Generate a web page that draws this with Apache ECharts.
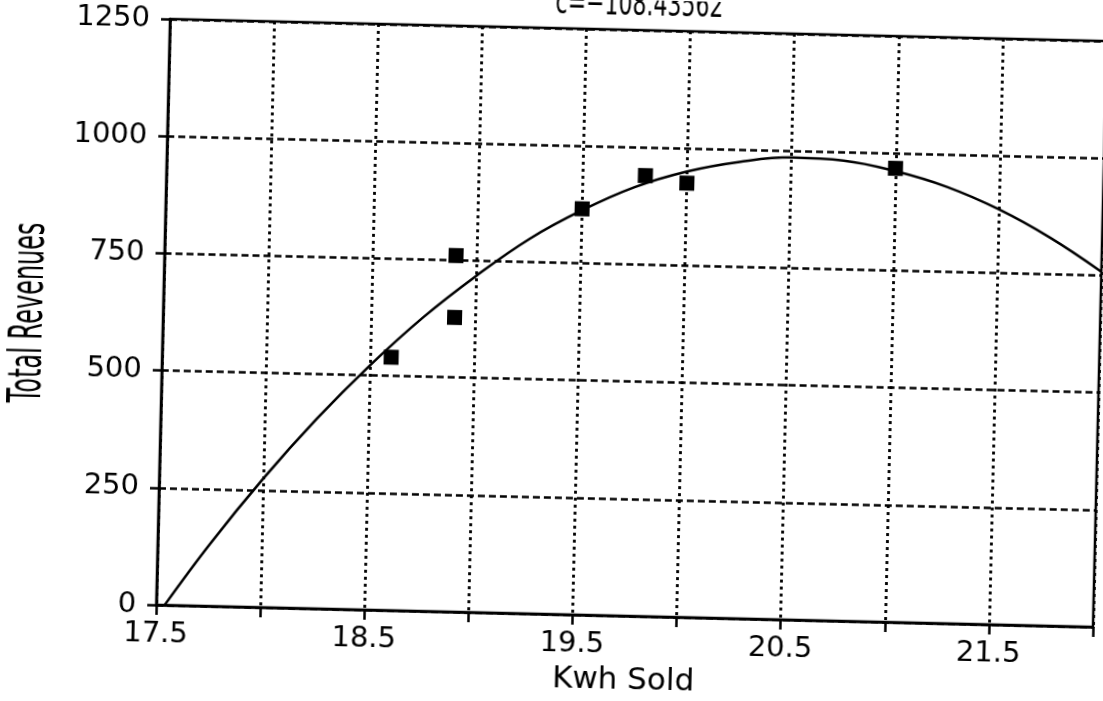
<!DOCTYPE html>
<html>
<head>
<meta charset="utf-8">
<script src="https://cdn.jsdelivr.net/npm/echarts@6/dist/echarts.min.js"></script>
<style>
  html, body { margin: 0; padding: 0; background: #fff; overflow: hidden; width: 1103px; height: 701px; }
  /* the plotted sheet sits slightly askew */
  #chart { position: absolute; left: 0; top: 0; width: 1160px; height: 701px;
           transform: rotate(1.35deg); transform-origin: 633px 323.5px; }
</style>
</head>
<body>
<div id="chart"></div>
<script>
// Observed sales: kWh sold vs. total revenues
const kwhSold       = [18.6, 18.9, 18.9, 19.5, 19.8, 20.0, 21.0];
const totalRevenues = [540, 760, 628, 866, 940, 926, 968];

// Fitted quadratic revenue curve, sampled along the axis
const fitKwh     = [17.54, 17.75, 18.0, 18.25, 18.5, 18.75, 19.0, 19.25, 19.5, 19.75,
                    20.0, 20.25, 20.5, 20.75, 21.0, 21.25, 21.5, 21.75, 22.0];
const fitRevenue = [0, 132, 275, 405, 522, 627, 718, 799, 863, 915,
                    951, 974, 986, 982, 962, 931, 886, 828, 758];

// Labelled ticks
const xLabelValues = [17.5, 18.5, 19.5, 20.5, 21.5];
const yLabelValues = [0, 250, 500, 750, 1000, 1250];

const titleText  = 'c=\u2212108.43562';
const xTitle     = 'Kwh Sold';
const yTitle     = 'Total Revenues';

const FONT = '"DejaVu Sans", sans-serif';

const chart = echarts.init(document.getElementById('chart'), null, { renderer: 'canvas' });

chart.setOption({
  backgroundColor: '#fff',
  animation: false,
  grid: {
    left: 163, top: 30, width: 937, height: 587,
    show: true, borderColor: '#000', borderWidth: 2.5, backgroundColor: 'transparent'
  },
  graphic: [
    {
      type: 'text', x: 632, y: 23, scaleY: 1.5,
      style: { text: titleText, font: '22px ' + FONT, fill: '#000',
               align: 'center', verticalAlign: 'bottom' }
    },
    {
      type: 'text', x: 30, y: 327, rotation: Math.PI / 2, scaleY: 1.9,
      style: { text: yTitle, font: '24px ' + FONT, fill: '#000',
               align: 'center', verticalAlign: 'middle' }
    }
  ],
  xAxis: {
    type: 'value', min: 17.5, max: 22, interval: 0.5,
    name: xTitle, nameLocation: 'middle', nameGap: 48,
    nameTextStyle: { fontFamily: FONT, fontSize: 31, color: '#000' },
    axisLine: { show: true, onZero: false, lineStyle: { color: '#000', width: 2.5 } },
    axisTick: { show: true, inside: false, length: 10, lineStyle: { color: '#000', width: 2.5 } },
    axisLabel: {
      margin: 15, fontFamily: FONT, fontSize: 29, color: '#000',
      formatter: v => xLabelValues.some(t => Math.abs(t - v) < 1e-6) ? v.toFixed(1) : ''
    },
    splitLine: { show: true, lineStyle: { color: '#000', width: 2.8, type: [3, 4] } }
  },
  yAxis: {
    type: 'value', min: 0, max: 1250, interval: 250,
    axisLine: { show: true, onZero: false, lineStyle: { color: '#000', width: 2.5 } },
    axisTick: { show: true, inside: false, length: 9, lineStyle: { color: '#000', width: 2.5 } },
    axisLabel: {
      margin: 20, fontFamily: FONT, fontSize: 29, color: '#000',
      formatter: v => yLabelValues.includes(v) ? String(v) : ''
    },
    splitLine: { show: true, lineStyle: { color: '#000', width: 2.5, type: [7, 4] } }
  },
  series: [
    {
      name: 'Fit', type: 'line', smooth: 0.4, showSymbol: false, clip: true,
      data: fitKwh.map((x, i) => [x, fitRevenue[i]]),
      lineStyle: { color: '#000', width: 2.5 }, z: 3
    },
    {
      name: 'Observed', type: 'scatter', symbol: 'rect', symbolSize: 15,
      data: kwhSold.map((x, i) => [x, totalRevenues[i]]),
      itemStyle: { color: '#000', opacity: 1 }, z: 4
    }
  ]
});
</script>
</body>
</html>
